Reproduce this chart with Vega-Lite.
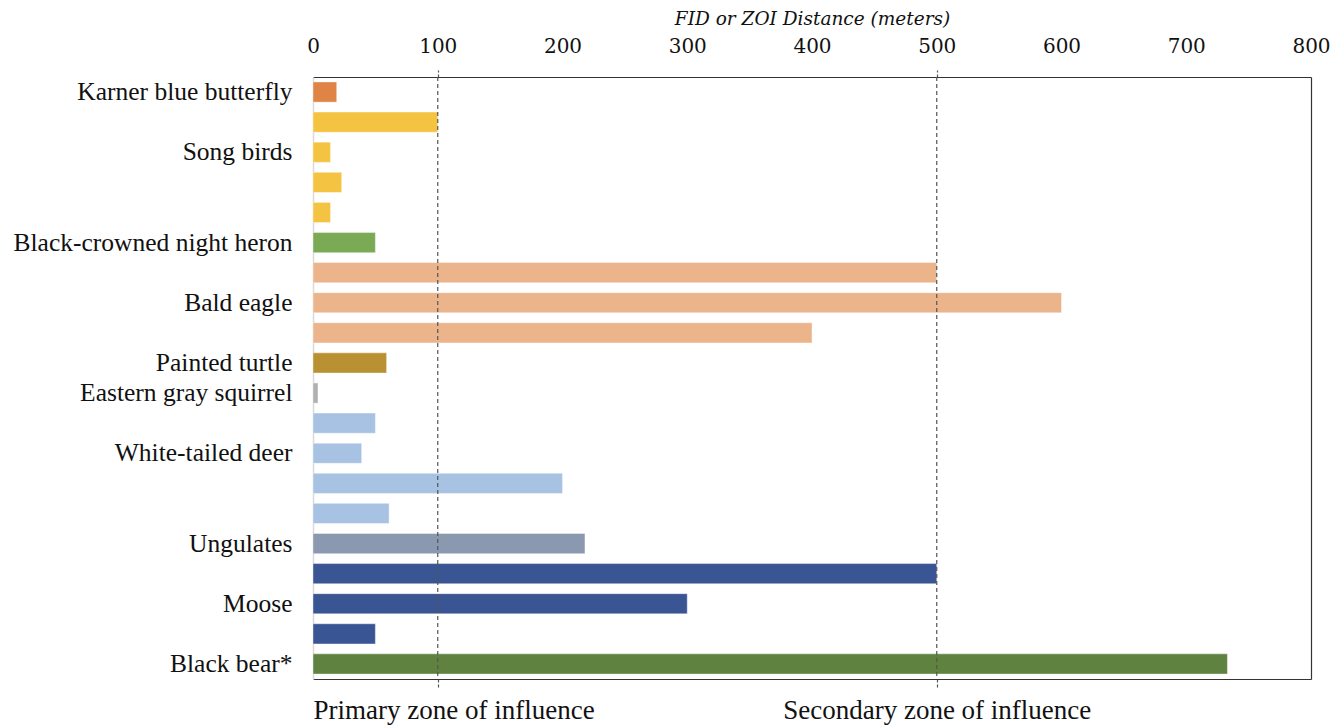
{
  "$schema": "https://vega.github.io/schema/vega-lite/v6.json",
  "width": 998,
  "height": 602,
  "autosize": {"type": "none"},
  "padding": {"left": 313, "top": 77, "right": 32, "bottom": 48},
  "background": "white",
  "config": {"view": {"stroke": null}, "font": "Liberation Serif"},
  "data": {
    "values": [
      {"row": 1, "species": "Karner blue butterfly", "value": 19},
      {"row": 2, "species": "Song birds", "value": 100},
      {"row": 3, "species": "Song birds", "value": 14},
      {"row": 4, "species": "Song birds", "value": 23},
      {"row": 5, "species": "Song birds", "value": 14},
      {"row": 6, "species": "Black-crowned night heron", "value": 50},
      {"row": 7, "species": "Bald eagle", "value": 500},
      {"row": 8, "species": "Bald eagle", "value": 600},
      {"row": 9, "species": "Bald eagle", "value": 400},
      {"row": 10, "species": "Painted turtle", "value": 59},
      {"row": 11, "species": "Eastern gray squirrel", "value": 4},
      {"row": 12, "species": "White-tailed deer", "value": 50},
      {"row": 13, "species": "White-tailed deer", "value": 39},
      {"row": 14, "species": "White-tailed deer", "value": 200},
      {"row": 15, "species": "White-tailed deer", "value": 61},
      {"row": 16, "species": "Ungulates", "value": 218},
      {"row": 17, "species": "Moose", "value": 500},
      {"row": 18, "species": "Moose", "value": 300},
      {"row": 19, "species": "Moose", "value": 50},
      {"row": 20, "species": "Black bear*", "value": 733}
    ]
  },
  "layer": [
    {
      "mark": {"type": "bar", "stroke": "white", "strokeOpacity": 0.4, "strokeWidth": 1},
      "encoding": {
        "y": {
          "field": "row",
          "type": "ordinal",
          "scale": {"paddingInner": 0.33, "paddingOuter": 0.165},
          "axis": {
            "orient": "left",
            "title": null,
            "ticks": false,
            "domainColor": "#d9d9d9",
            "domainWidth": 1.5,
            "labelPadding": 21,
            "labelLimit": 0,
            "labelFont": "Liberation Serif",
            "labelFontSize": 25.5,
            "labelColor": "#111111",
            "labelExpr": "['', 'Karner blue butterfly', '', 'Song birds', '', '', 'Black-crowned night heron', '', 'Bald eagle', '', 'Painted turtle', 'Eastern gray squirrel', '', 'White-tailed deer', '', '', 'Ungulates', '', 'Moose', '', 'Black bear*'][datum.value]"
          }
        },
        "x": {
          "field": "value",
          "type": "quantitative",
          "scale": {"domain": [0, 800], "nice": false},
          "axis": {
            "orient": "top",
            "title": "FID or ZOI Distance (meters)",
            "titleFont": "DejaVu Serif",
            "titleFontStyle": "italic",
            "titleFontWeight": "normal",
            "titleFontSize": 18.5,
            "titleColor": "#111111",
            "titlePadding": 8,
            "values": [0, 100, 200, 300, 400, 500, 600, 700, 800],
            "grid": false,
            "labelFont": "DejaVu Serif",
            "labelFontSize": 20,
            "labelColor": "#111111",
            "labelPadding": 14,
            "labelFlush": false,
            "tickSize": 7,
            "tickDash": [3, 2],
            "tickWidth": 1.2,
            "tickColor": {"condition": {"test": "datum.value == 100 || datum.value == 500", "value": "#555555"}, "value": "transparent"},
            "domainColor": "#333333",
            "domainWidth": 1.2
          }
        },
        "color": {
          "field": "species",
          "type": "nominal",
          "scale": {
            "domain": ["Karner blue butterfly", "Song birds", "Black-crowned night heron", "Bald eagle", "Painted turtle", "Eastern gray squirrel", "White-tailed deer", "Ungulates", "Moose", "Black bear*"],
            "range": ["#E08445", "#F5C342", "#7BAA55", "#EBB48A", "#B99133", "#B0B0B0", "#A8C2E3", "#8A98B0", "#3A5593", "#5F8240"]
          },
          "legend": null
        }
      }
    },
    {
      "data": {"values": [{"zone": 100}, {"zone": 500}]},
      "mark": {"type": "rule", "color": "#555555", "strokeDash": [4, 3], "strokeWidth": 1.2},
      "encoding": {
        "x": {
          "field": "zone",
          "type": "quantitative",
          "scale": {"domain": [0, 800], "nice": false},
          "axis": {
            "orient": "bottom",
            "title": null,
            "grid": false,
            "values": [0, 100, 500],
            "labelExpr": "datum.value == 0 ? 'Primary zone of influence' : datum.value == 500 ? 'Secondary zone of influence' : ''",
            "labelAlign": {"condition": {"test": "datum.value == 0", "value": "left"}, "value": "center"},
            "labelFont": "Liberation Serif",
            "labelFontSize": 27,
            "labelColor": "#111111",
            "labelPadding": 9,
            "labelLimit": 0,
            "labelFlush": false,
            "labelOverlap": false,
            "tickSize": 9,
            "tickDash": [3, 2],
            "tickWidth": 1.2,
            "tickColor": {"condition": {"test": "datum.value == 0", "value": "transparent"}, "value": "#555555"},
            "domainColor": "#333333",
            "domainWidth": 1.2
          }
        }
      }
    },
    {
      "mark": {"type": "bar", "opacity": 0},
      "encoding": {
        "y": {
          "field": "row",
          "type": "ordinal",
          "scale": {"paddingInner": 0.33, "paddingOuter": 0.165},
          "axis": {"orient": "right", "title": null, "labels": false, "ticks": false, "domainColor": "#333333", "domainWidth": 1.2}
        },
        "x": {"field": "value", "type": "quantitative", "scale": {"domain": [0, 800], "nice": false}, "axis": null}
      }
    }
  ],
  "resolve": {"axis": {"x": "independent", "y": "independent"}}
}
